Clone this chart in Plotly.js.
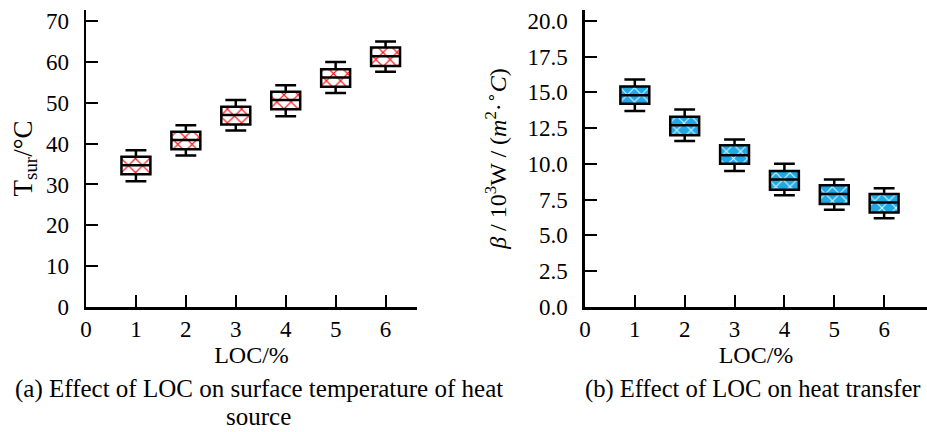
<!DOCTYPE html>
<html>
<head>
<meta charset="utf-8">
<script src="https://cdn.plot.ly/plotly-3.0.1.min.js"></script>
<style>html,body{margin:0;padding:0;background:#fff;}#chart{width:927px;height:432px;}</style>
</head>
<body>
<div id="chart"></div>
<script>
// LOC categories (%)
var loc = [1, 2, 3, 4, 5, 6];

// (a) Surface temperature of heat source, T_sur (°C)
var tLow    = [30.8, 37.1, 43.2, 46.7, 52.4, 57.6];
var tQ1     = [32.5, 38.6, 44.7, 48.4, 53.9, 59.0];
var tMedian = [34.7, 40.9, 47.0, 50.7, 56.2, 61.4];
var tQ3     = [36.8, 42.9, 49.0, 52.7, 58.2, 63.5];
var tHigh   = [38.4, 44.5, 50.7, 54.3, 60.0, 65.0];

// (b) Heat transfer coefficient, beta (10^3 W/(m2·°C))
var bLow    = [13.7, 11.6, 9.5, 7.8, 6.8, 6.2];
var bQ1     = [14.2, 12.0, 10.0, 8.2, 7.2, 6.6];
var bMedian = [14.8, 12.7, 10.6, 8.9, 7.9, 7.3];
var bQ3     = [15.4, 13.3, 11.3, 9.5, 8.5, 7.9];
var bHigh   = [15.9, 13.8, 11.7, 10.0, 8.9, 8.3];

var leftTicks  = [0, 10, 20, 30, 40, 50, 60, 70];
var rightTicks = [0, 2.5, 5, 7.5, 10, 12.5, 15, 17.5, 20];
var xTicks     = [0, 1, 2, 3, 4, 5, 6];

function diff(a, b) { return a.map(function (v, i) { return v - b[i]; }); }

var BOXW = 0.58;
var FONT = 'Liberation Serif, Times New Roman, serif';

var traces = [
  // hatch fill of the (a) boxes
  {type: 'bar', x: loc, base: tQ1, y: diff(tQ3, tQ1), width: BOXW, xaxis: 'x', yaxis: 'y',
   marker: {color: '#ffffff', line: {width: 0},
            pattern: {shape: 'x', fgcolor: '#ff1a1a', bgcolor: '#ffffff', size: 10, solidity: 0.22}},
   showlegend: false, hoverinfo: 'skip'},
  {type: 'box', x: loc, q1: tQ1, median: tMedian, q3: tQ3, lowerfence: tLow, upperfence: tHigh,
   xaxis: 'x', yaxis: 'y', width: BOXW, whiskerwidth: 0.72, fillcolor: 'rgba(0,0,0,0)',
   line: {color: '#000000', width: 2.5}, showlegend: false},
  // hatch fill of the (b) boxes
  {type: 'bar', x: loc, base: bQ1, y: diff(bQ3, bQ1), width: BOXW, xaxis: 'x2', yaxis: 'y2',
   marker: {color: '#1ea9e6', line: {width: 0},
            pattern: {shape: 'x', fgcolor: '#dff4ff', bgcolor: '#1ea9e6', size: 10, solidity: 0.2}},
   showlegend: false, hoverinfo: 'skip'},
  {type: 'box', x: loc, q1: bQ1, median: bMedian, q3: bQ3, lowerfence: bLow, upperfence: bHigh,
   xaxis: 'x2', yaxis: 'y2', width: BOXW, whiskerwidth: 0.72, fillcolor: 'rgba(0,0,0,0)',
   line: {color: '#000000', width: 2.5}, showlegend: false}
];

var axisCommon = {
  showgrid: false, zeroline: false, showline: true, linecolor: '#000', linewidth: 2.5,
  ticks: 'inside', ticklen: 12, tickwidth: 2, tickcolor: '#000',
  tickfont: {family: FONT, size: 23, color: '#000'}
};

function ax(extra) { return Object.assign({}, axisCommon, extra); }

var capFont = {family: FONT, size: 25, color: '#000'};
function py(pix) { return (307 - pix) / 297; }

var layout = {
  width: 927, height: 432,
  margin: {l: 86, r: 0, t: 10, b: 125},
  paper_bgcolor: '#fff', plot_bgcolor: '#fff',
  showlegend: false,
  barmode: 'overlay',
  font: {family: FONT, color: '#000'},
  xaxis: ax({domain: [0, 0.3936], range: [0, 6.63], tickvals: xTicks, anchor: 'y',
             title: {text: 'LOC/%', font: {family: FONT, size: 24}, standoff: 2}}),
  yaxis: ax({domain: [0, 1], range: [0, 72.7], tickvals: leftTicks, anchor: 'x', ticklabelstandoff: 10,
             title: {text: 'T<sub>sur</sub>/°C', font: {family: FONT, size: 27}, standoff: 6}}),
  xaxis2: ax({domain: [0.5933, 1], range: [0, 6.86], tickvals: xTicks, anchor: 'y2',
             title: {text: 'LOC/%', font: {family: FONT, size: 24}, standoff: 2}}),
  yaxis2: ax({domain: [0, 1], range: [0, 20.75], tickvals: rightTicks, tickformat: '.1f', anchor: 'x2', ticklabelstandoff: 10,
             title: {text: '<i>β</i> / 10<sup>3</sup>W / (<i>m</i><sup>2</sup>·<sup>∘</sup><i>C</i>)',
                     font: {family: FONT, size: 24}, standoff: 14}}),
  annotations: [
    {xref: 'paper', yref: 'paper', x: (259 - 86) / 841, y: py(389), yanchor: 'middle', xanchor: 'center', showarrow: false,
     text: '(a) Effect of LOC on surface temperature of heat', font: capFont},
    {xref: 'paper', yref: 'paper', x: (258 - 86) / 841, y: py(416), yanchor: 'middle', xanchor: 'center', showarrow: false,
     text: 'source', font: capFont},
    {xref: 'paper', yref: 'paper', x: (583 - 86) / 841, y: py(389), yanchor: 'middle', xanchor: 'left', showarrow: false,
     text: '(b) Effect of LOC on heat transfer', font: {family: FONT, size: 24.6, color: '#000'}}
  ]
};

Plotly.newPlot('chart', traces, layout, {staticPlot: true, displayModeBar: false});
</script>
</body>
</html>
